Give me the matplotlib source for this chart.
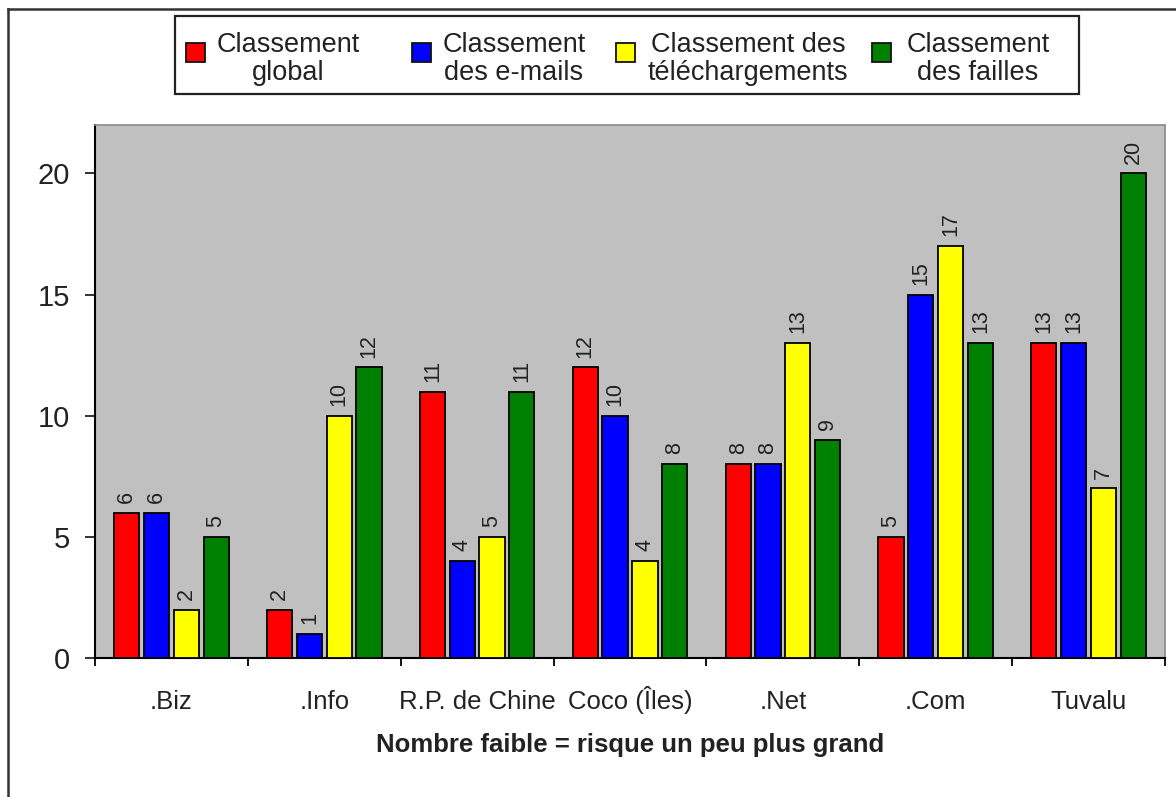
import numpy as np
import matplotlib
matplotlib.use("Agg")
import matplotlib.pyplot as plt
from matplotlib.patches import Rectangle
from matplotlib.lines import Line2D

# ── data ──────────────────────────────────────────────────────────────────
categories = [".Biz", ".Info", "R.P. de Chine", "Coco (Îles)", ".Net", ".Com", "Tuvalu"]
series_names = ["Classement\nglobal", "Classement\ndes e-mails",
                "Classement des\ntéléchargements", "Classement\ndes failles"]
global_rank   = [6, 2, 11, 12, 8, 5, 13]
email_rank    = [6, 1, 4, 10, 8, 15, 13]
download_rank = [2, 10, 5, 4, 13, 17, 7]
flaw_rank     = [5, 12, 11, 8, 9, 13, 20]
series_values = [global_rank, email_rank, download_rank, flaw_rank]
y_ticks = [0, 5, 10, 15, 20]
xlabel = "Nombre faible = risque un peu plus grand"

# ── style ─────────────────────────────────────────────────────────────────
COLS = ["#FF0000", "#0000FF", "#FFFF00", "#008000"]
PLOT_BG = "#C0C0C0"
W, H = 1176, 797
plt.rcParams.update({"font.family": ["Liberation Sans", "DejaVu Sans"]})

fig = plt.figure(figsize=(W/100, H/100), dpi=100)
fig.patch.set_facecolor("white")

def fx(px): return px / W
def fy(py): return 1 - py / H

ax = fig.add_axes([fx(95), fy(658), fx(1165) - fx(95), fy(125) - fy(658)])
ax.set_facecolor(PLOT_BG)

x = np.arange(len(categories))
slot, bw = 0.195, 0.165
for i, (vals, col) in enumerate(zip(series_values, COLS)):
    pos = x + (i - 1.5) * slot
    bars = ax.bar(pos, vals, width=bw, color=col, edgecolor="black", lw=1.3, zorder=3)
    for b, v in zip(bars, vals):
        ax.annotate(str(v), (b.get_x() + b.get_width()/2, v),
                    xytext=(0, 7), textcoords="offset points",
                    rotation=90, ha="center", va="bottom", fontsize=15.5, color="#222222")

ax.set_xlim(-0.5, len(categories) - 0.5)
ax.set_ylim(0, 22)
ax.set_yticks(y_ticks)
ax.tick_params(axis="y", length=7, width=1.3, pad=11, labelsize=21, colors="#222222")
# ticks between groups, labels at group centres
ax.set_xticks(np.arange(-0.5, len(categories)), minor=False)
ax.set_xticklabels([])
ax.set_xticks(x, minor=True)
ax.set_xticklabels(categories, minor=True)
ax.tick_params(axis="x", which="major", length=6, width=1.3, direction="out")
ax.tick_params(axis="x", which="minor", length=0, pad=37, labelsize=18.5, labelcolor="#222222")
for lab in ax.get_xticklabels(minor=True):
    lab.set_verticalalignment("baseline")
ax.set_xlabel(xlabel, fontsize=18.5, fontweight="bold", color="#222222", va="center")
ax.xaxis.set_label_coords(0.5, -0.163)

for s in ["left", "bottom"]:
    ax.spines[s].set_color("black"); ax.spines[s].set_linewidth(1.5)
for s in ["top", "right"]:
    ax.spines[s].set_color("#8a8a8a"); ax.spines[s].set_linewidth(1.2)

# ── legend box (drawn by hand: Excel-style centred two-line entries) ─────
fig.add_artist(Rectangle((fx(175), fy(94)), fx(1079) - fx(175), fy(16) - fy(94),
                         transform=fig.transFigure, fill=False, ec="#222222", lw=1.6))
sq_x = [186, 412, 616, 872]
txt_x = [288, 514, 748, 978]
for sx, tx, col, name in zip(sq_x, txt_x, COLS, series_names):
    fig.add_artist(Rectangle((fx(sx), fy(62)), fx(19), fy(43) - fy(62),
                             transform=fig.transFigure, fc=col, ec="#111111", lw=1.3))
    fig.text(fx(tx), fy(59), name, ha="center", va="center", multialignment="center",
             fontsize=19.5, linespacing=1.08, color="#222222")

# ── outer frame (left and top edges visible) ─────────────────────────────
fig.add_artist(Line2D([fx(8), fx(8)], [0, fy(9)], transform=fig.transFigure, color="#333333", lw=1.8))
fig.add_artist(Line2D([fx(8), 1], [fy(9), fy(9)], transform=fig.transFigure, color="#333333", lw=1.8))

fig.savefig("out.png", dpi=100)
